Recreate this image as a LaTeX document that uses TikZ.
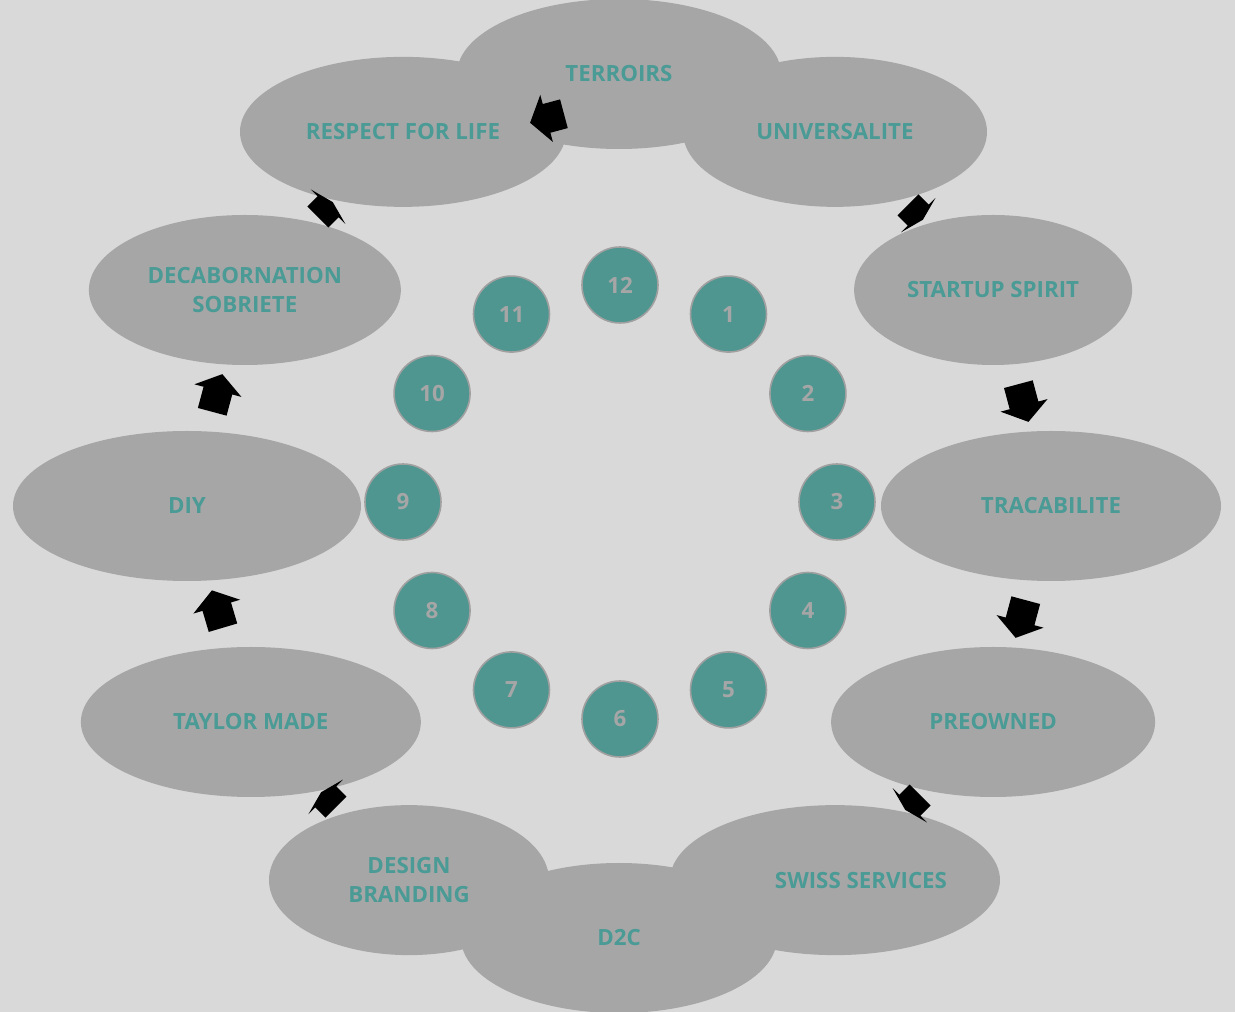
\documentclass[tikz,border=0pt]{standalone}
\usepackage{fontspec}
\setmainfont{Open Sans}
\usetikzlibrary{shapes.geometric,shapes.arrows,calc}
\definecolor{paper}{HTML}{D9D9D9}
\definecolor{blob}{HTML}{A6A6A6}
\definecolor{petrol}{HTML}{4A9A95}
\definecolor{disc}{HTML}{4F9691}
\definecolor{rim}{HTML}{A0A0A0}
\tikzset{
  cloud/.style={ellipse, fill=blob, draw=none, minimum height=3cm, inner sep=0pt},
  lbl/.style={font=\bfseries\fontsize{12.7}{16.5}\selectfont, text=petrol, align=center},
  num/.style={circle, fill=disc, draw=rim, line width=0.9pt, minimum size=1.52cm, inner sep=0pt, font=\bfseries\fontsize{12.7}{14}\selectfont, text=blob},
  blk/.style={single arrow, fill=black, draw=none, inner xsep=0pt, inner ysep=0.29cm, single arrow head extend=0.19cm, minimum height=0.78cm, single arrow tip angle=110},
  flat/.style={blk, minimum height=0.42cm, single arrow tip angle=150},
  along/.style={sloped, allow upside down, midway},
}
\begin{document}
\begin{tikzpicture}
  \path[use as bounding box, fill=paper] (-12.38,-10.12) rectangle (12.32,10.12);
  % the twelve themes round the ring
  \foreach \ang/\name/\rx/\ox/\dx/\txt in {
      90/ter/3.24/0/0/TERROIRS,
      60/uni/3.04/0/0/UNIVERSALITE,
      30/sta/2.78/0/0/STARTUP SPIRIT,
      0/tra/3.40/0/0/TRACABILITE,
      -30/pre/3.24/0/0/PREOWNED,
      -60/swi/3.30/0/0.52/SWISS SERVICES,
      -90/d2c/3.16/0/0/D2C,
      -120/des/2.80/0.12/0/{DESIGN\\BRANDING},
      -150/tay/3.40/0.12/0/TAYLOR MADE,
      180/diy/3.48/0/0/DIY,
      150/dec/3.12/0/0/{DECABORNATION\\SOBRIETE},
      120/res/3.26/0/0/RESPECT FOR LIFE} {
    \node[cloud, minimum width={2*\rx*1cm}, xshift=\ox cm] (\name) at (\ang:8.64) {};
    \node[lbl] at ([xshift=\dx cm]\name.center) {\txt};
  }
  % numbered discs
  \begin{scope}[shift={(0.02,0.08)}]
    \foreach \n in {1,...,12}
      \node[num] (c\n) at ({90-30*\n}:4.34) {\n};
  \end{scope}
  % block arrows
  \foreach \a/\b in {uni/sta, pre/swi, des/tay, dec/res}
    \path (\a.center) -- (\b.center) node[flat, along] {};
  \foreach \a/\b in {sta/tra, tra/pre, tay/diy, diy/dec}
    \path (\a.center) -- (\b.center) node[blk, along] {};
  \node[blk, rotate=195, minimum height=0.7cm] (top) at ($(ter)!0.31!(res)+(0,-0.5)$) {};
\end{tikzpicture}
\end{document}
